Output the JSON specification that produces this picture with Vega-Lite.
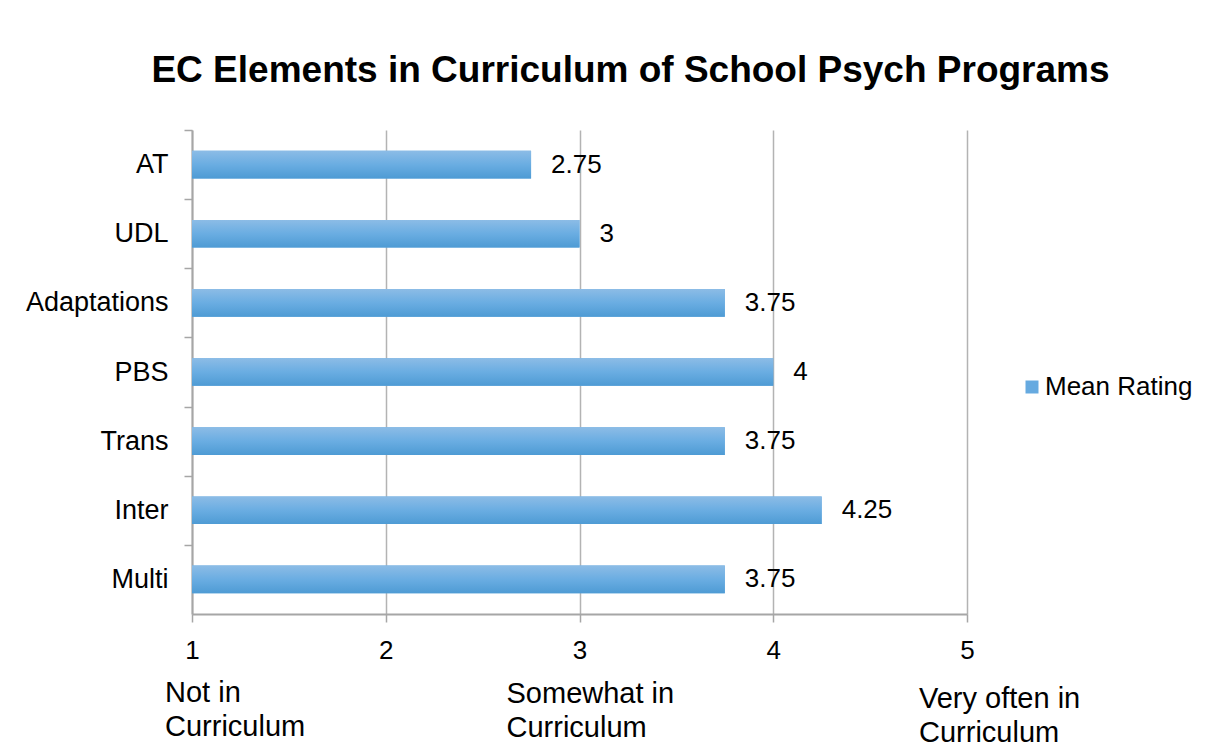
{
  "$schema": "https://vega.github.io/schema/vega-lite/v6.json",
  "width": 775,
  "height": 484,
  "autosize": {"type": "none"},
  "padding": {"left": 192, "top": 130, "right": 254, "bottom": 141},
  "background": "white",
  "config": {
    "view": {"stroke": null},
    "font": "Liberation Sans",
    "text": {"font": "Liberation Sans", "color": "#000000"}
  },
  "title": {
    "text": "EC Elements in Curriculum of School Psych Programs",
    "font": "Liberation Sans",
    "fontSize": 37,
    "fontWeight": "bold",
    "color": "#000000",
    "anchor": "middle",
    "frame": "group",
    "dx": 51,
    "dy": 38,
    "baseline": "alphabetic",
    "offset": 48
  },
  "datasets": {
    "ratings": [
      {"element": "AT", "rating": 2.75},
      {"element": "UDL", "rating": 3},
      {"element": "Adaptations", "rating": 3.75},
      {"element": "PBS", "rating": 4},
      {"element": "Trans", "rating": 3.75},
      {"element": "Inter", "rating": 4.25},
      {"element": "Multi", "rating": 3.75}
    ]
  },
  "layer": [
    {
      "data": {"name": "ratings"},
      "mark": {"type": "bar"},
      "encoding": {
        "y": {
          "field": "element",
          "type": "nominal",
          "sort": null,
          "scale": {"paddingInner": 0.6, "paddingOuter": 0.3},
          "axis": {
            "title": null,
            "domainColor": "#a6a6a6",
            "domainWidth": 2,
            "tickColor": "#a6a6a6",
            "tickWidth": 1.5,
            "tickSize": 8,
            "tickOffset": -34.57,
            "labelOffset": 34.57,
            "labelFontSize": 27,
            "labelFont": "Liberation Sans",
            "labelColor": "#000000",
            "labelPadding": 16,
            "grid": false
          }
        },
        "x": {
          "field": "rating",
          "type": "quantitative",
          "scale": {"domain": [1, 5], "nice": false, "zero": false},
          "axis": {
            "title": null,
            "values": [1, 2, 3, 4, 5],
            "format": "d",
            "grid": true,
            "gridColor": "#b3b3b3",
            "gridWidth": 1.5,
            "domainColor": "#a6a6a6",
            "domainWidth": 2,
            "tickColor": "#a6a6a6",
            "tickWidth": 1.5,
            "tickSize": 8,
            "labelFontSize": 26,
            "labelFont": "Liberation Sans",
            "labelColor": "#000000",
            "labelPadding": 15,
            "labelFlush": false
          }
        },
        "x2": {"datum": 1},
        "color": {
          "datum": "Mean Rating",
          "scale": {"range": ["#66aae0"]},
          "legend": {
            "orient": "none",
            "legendX": 827,
            "legendY": 244,
            "title": null,
            "symbolType": "square",
            "symbolSize": 169,
            "symbolStrokeWidth": 0,
            "labelFontSize": 26,
            "labelFont": "Liberation Sans",
            "labelColor": "#000000",
            "labelOffset": 0,
            "padding": 0
          }
        }
      }
    },
    {
      "data": {"name": "ratings"},
      "mark": {
        "type": "bar",
        "fill": {
          "gradient": "linear",
          "x1": 0, "y1": 0, "x2": 0, "y2": 1,
          "stops": [
            {"offset": 0, "color": "#8cbce6"},
            {"offset": 0.5, "color": "#6aade2"},
            {"offset": 1, "color": "#4e9bd4"}
          ]
        }
      },
      "encoding": {
        "y": {"field": "element", "type": "nominal", "sort": null},
        "x": {"field": "rating", "type": "quantitative"},
        "x2": {"datum": 1}
      }
    },
    {
      "data": {"name": "ratings"},
      "mark": {"type": "text", "align": "left", "baseline": "middle", "dx": 20, "fontSize": 26, "color": "#000000"},
      "encoding": {
        "y": {"field": "element", "type": "nominal", "sort": null},
        "x": {"field": "rating", "type": "quantitative"},
        "text": {"field": "rating", "type": "quantitative"}
      }
    },
    {
      "data": {"values": [{"rating": 1, "note": "Not in\nCurriculum"}]},
      "mark": {"type": "text", "align": "left", "baseline": "alphabetic", "lineBreak": "\n", "lineHeight": 34, "fontSize": 29, "color": "#000000", "dx": -27, "y": {"expr": "height + 88"}},
      "encoding": {
        "x": {"field": "rating", "type": "quantitative"},
        "text": {"field": "note", "type": "nominal"}
      }
    },
    {
      "data": {"values": [{"rating": 3, "note": "Somewhat in\nCurriculum"}]},
      "mark": {"type": "text", "align": "left", "baseline": "alphabetic", "lineBreak": "\n", "lineHeight": 34, "fontSize": 29, "color": "#000000", "dx": -73, "y": {"expr": "height + 89"}},
      "encoding": {
        "x": {"field": "rating", "type": "quantitative"},
        "text": {"field": "note", "type": "nominal"}
      }
    },
    {
      "data": {"values": [{"rating": 5, "note": "Very often in\nCurriculum"}]},
      "mark": {"type": "text", "align": "left", "baseline": "alphabetic", "lineBreak": "\n", "lineHeight": 34, "fontSize": 29, "color": "#000000", "dx": -48, "y": {"expr": "height + 94"}},
      "encoding": {
        "x": {"field": "rating", "type": "quantitative"},
        "text": {"field": "note", "type": "nominal"}
      }
    }
  ]
}
